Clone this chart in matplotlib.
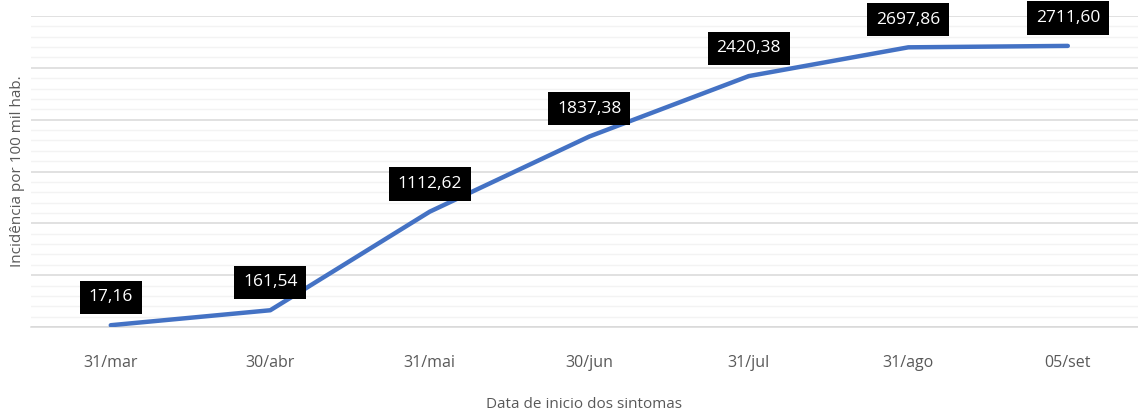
import matplotlib.pyplot as plt
from matplotlib.ticker import MultipleLocator, NullFormatter

# Data
dates = ['31/mar', '30/abr', '31/mai', '30/jun', '31/jul', '31/ago', '05/set']
incidence = [17.16, 161.54, 1112.62, 1837.38, 2420.38, 2697.86, 2711.60]
value_labels = ['17,16', '161,54', '1112,62', '1837,38', '2420,38', '2697,86', '2711,60']

plt.rcParams['font.family'] = ['Open Sans', 'DejaVu Sans']

fig = plt.figure(figsize=(11.38, 4.16), dpi=100)
ax = fig.add_axes([31 / 1138, 1 - 327 / 416, (1138 - 31) / 1138, (327 - 16) / 416])

x = list(range(len(dates)))
ax.plot(x, incidence, color='#4472C4', lw=3.2, solid_capstyle='round',
        solid_joinstyle='round', zorder=3)

for xi, yi, lab in zip(x, incidence, value_labels):
    ax.annotate(lab, (xi, yi), xytext=(0, 20), textcoords='offset points',
                ha='center', va='center', color='white', fontsize=12.5,
                bbox=dict(boxstyle='square,pad=0.5', fc='black', ec='none'),
                annotation_clip=False, zorder=4)

ax.set_xlim(-0.5, 6.44)
ax.set_ylim(0, 3000)
ax.yaxis.set_major_locator(MultipleLocator(500))
ax.yaxis.set_minor_locator(MultipleLocator(100))
ax.yaxis.set_major_formatter(NullFormatter())
ax.grid(axis='y', which='major', color='#d9d9d9', lw=1.1)
ax.grid(axis='y', which='minor', color='#f3f3f3', lw=1.0)
ax.tick_params(axis='y', which='both', length=0)
ax.set_axisbelow(True)

ax.set_xticks(x)
ax.set_xticklabels(dates, color='#595959', fontsize=11.5)
ax.tick_params(axis='x', length=0, pad=20)

for side in ['top', 'right', 'left']:
    ax.spines[side].set_visible(False)
ax.spines['bottom'].set_color('#d9d9d9')
ax.spines['bottom'].set_linewidth(1.1)

ax.set_xlabel('Data de inicio dos sintomas', color='#595959', fontsize=11, labelpad=19)
ax.set_ylabel('Incidência por 100 mil hab.', color='#595959', fontsize=11)
ax.yaxis.set_label_coords(-6 / 1107, 0.5)

fig.savefig('out.png', dpi=100)
